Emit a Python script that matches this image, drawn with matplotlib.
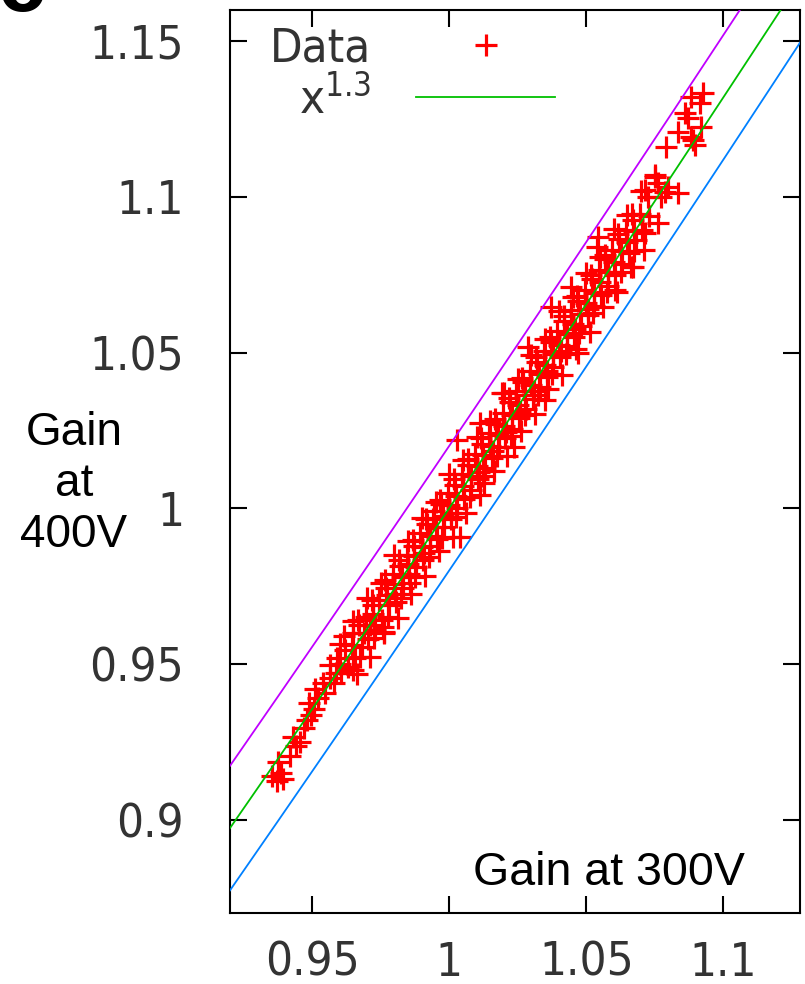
import numpy as np
import matplotlib
matplotlib.use("Agg")
import matplotlib.pyplot as plt

plt.rcParams['mathtext.default'] = 'regular'

gain300 = [
    0.9355, 0.9370, 0.9385, 0.9375, 0.9395, 0.9420, 0.9440, 0.9430, 0.9455, 0.9470,
    0.9480, 0.9495, 0.9505, 0.9490, 0.9520, 0.9545, 0.9510, 0.9540, 0.9565, 0.9585,
    0.9650, 0.9600,
    0.9565, 0.9580, 0.9600, 0.9605, 0.9592, 0.9620, 0.9632, 0.9615, 0.9648, 0.9655,
    0.9645, 0.9670, 0.9680, 0.9690, 0.9695, 0.9705, 0.9712, 0.9720, 0.9730, 0.9722,
    0.9745, 0.9755, 0.9762, 0.9760, 0.9770, 0.9780, 0.9772, 0.9795, 0.9805, 0.9800,
    0.9802, 0.9820, 0.9830, 0.9828, 0.9845, 0.9852, 0.9858, 0.9848, 0.9870, 0.9880,
    0.9872, 0.9895, 0.9905, 0.9900, 0.9908, 0.9920, 0.9930, 0.9928, 0.9945, 0.9955,
    0.9950, 0.9942, 0.9970, 0.9980, 0.9978, 0.9995, 1.0005, 1.0000, 1.0008, 1.0029,
    1.0020, 1.0030, 1.0025, 1.0040, 1.0045, 1.0055, 1.0052, 1.0070, 1.0080, 1.0078,
    1.0095, 1.0105, 1.0100, 1.0108, 1.0114, 1.0128, 1.0120, 1.0130, 1.0125, 1.0145,
    1.0155, 1.0150, 1.0158, 1.0170, 1.0180, 1.0178, 1.0194, 1.0195, 1.0205, 1.0200,
    1.0208, 1.0220, 1.0230, 1.0228, 1.0238, 1.0245, 1.0255, 1.0250, 1.0258, 1.0270,
    1.0280, 1.0278, 1.0286, 1.0295, 1.0305, 1.0300, 1.0308, 1.0320, 1.0330, 1.0328,
    1.0348, 1.0345, 1.0355, 1.0350, 1.0358, 1.0370, 1.0370, 1.0380, 1.0378, 1.0395,
    1.0405, 1.0400, 1.0408, 1.0420, 1.0430, 1.0428, 1.0443, 1.0445, 1.0455, 1.0450,
    1.0458, 1.0469, 1.0470, 1.0480, 1.0478, 1.0495, 1.0505, 1.0500, 1.0508, 1.0520,
    1.0530, 1.0528, 1.0538, 1.0545, 1.0555, 1.0550, 1.0542, 1.0570, 1.0580, 1.0578,
    1.0604, 1.0595, 1.0605, 1.0600, 1.0620, 1.0630, 1.0628, 1.0645, 1.0655, 1.0650,
    1.0670, 1.0670, 1.0680, 1.0676, 1.0695, 1.0705, 1.0714, 1.0714, 1.0725, 1.0730,
    1.0751, 1.0762, 1.0762, 1.0773, 1.0788, 1.0799, 1.0835,
    1.0883, 1.0927, 1.0916, 1.0861, 1.0872, 1.0919, 1.0835, 1.0883, 1.0897, 1.0791,
    1.0890,
    # upper edge of the band
    0.9650, 0.9700, 0.9750, 0.9800, 0.9850, 0.9900, 0.9950, 1.0000, 1.0050, 1.0100,
    1.0150, 1.0200, 1.0250, 1.0300, 1.0350, 1.0400, 1.0450, 1.0500, 1.0550, 1.0600,
    1.0650, 1.0700, 1.0750,
    # lower edge of the band
    0.9662, 0.9712, 0.9762, 0.9812, 0.9862, 0.9912, 0.9962, 1.0012, 1.0062, 1.0112,
    1.0162, 1.0212, 1.0262, 1.0312, 1.0362, 1.0412, 1.0462, 1.0512, 1.0562, 1.0612,
    1.0662, 1.0712,
    # fill, above the curve
    0.9667, 0.9717, 0.9767, 0.9817, 0.9867, 0.9917, 0.9967, 1.0017, 1.0067, 1.0117,
    1.0167, 1.0217, 1.0267, 1.0317, 1.0367, 1.0417, 1.0467, 1.0517, 1.0567, 1.0617,
    1.0667,
    # fill, below the curve
    0.9675, 0.9725, 0.9775, 0.9825, 0.9875, 0.9925, 0.9975, 1.0025, 1.0075, 1.0125,
    1.0175, 1.0225, 1.0275, 1.0325, 1.0375, 1.0425, 1.0475, 1.0525, 1.0575, 1.0625,
    1.0675,
]
gain400 = [
    0.9140, 0.9125, 0.9150, 0.9185, 0.9130, 0.9205, 0.9235, 0.9265, 0.9250, 0.9295,
    0.9320, 0.9335, 0.9355, 0.9375, 0.9390, 0.9405, 0.9420, 0.9440, 0.9455, 0.9470,
    0.9480, 0.9500,
    0.9498, 0.9440, 0.9565, 0.9470, 0.9520, 0.9545, 0.9490, 0.9588, 0.9600, 0.9520,
    0.9560, 0.9625, 0.9555, 0.9600, 0.9650, 0.9580, 0.9625, 0.9688, 0.9610, 0.9660,
    0.9705, 0.9640, 0.9598, 0.9617, 0.9745, 0.9690, 0.9720, 0.9790, 0.9700, 0.9755,
    0.9725, 0.9815, 0.9745, 0.9780, 0.9850, 0.9790, 0.9760, 0.9822, 0.9880, 0.9810,
    0.9845, 0.9920, 0.9835, 0.9875, 0.9855, 0.9950, 0.9880, 0.9910, 0.9990, 0.9900,
    0.9940, 0.9965, 1.0015, 0.9940, 0.9975, 1.0050, 0.9965, 1.0010, 0.9985, 1.0219,
    1.0075, 1.0000, 1.0040, 0.9907, 1.0110, 1.0030, 1.0070, 1.0140, 1.0060, 1.0105,
    1.0175, 1.0095, 1.0135, 1.0115, 1.0273, 1.0080, 1.0205, 1.0130, 1.0170, 1.0240,
    1.0160, 1.0200, 1.0185, 1.0270, 1.0195, 1.0235, 1.0370, 1.0305, 1.0225, 1.0265,
    1.0245, 1.0340, 1.0255, 1.0300, 1.0196, 1.0375, 1.0290, 1.0330, 1.0310, 1.0405,
    1.0320, 1.0365, 1.0518, 1.0440, 1.0350, 1.0395, 1.0375, 1.0470, 1.0390, 1.0430,
    1.0347, 1.0505, 1.0420, 1.0460, 1.0440, 1.0646, 1.0535, 1.0455, 1.0495, 1.0570,
    1.0485, 1.0525, 1.0505, 1.0600, 1.0520, 1.0560, 1.0711, 1.0635, 1.0550, 1.0590,
    1.0575, 1.0498, 1.0665, 1.0585, 1.0625, 1.0700, 1.0620, 1.0660, 1.0640, 1.0735,
    1.0650, 1.0690, 1.0839, 1.0765, 1.0685, 1.0725, 1.0871, 1.0800, 1.0715, 1.0760,
    1.0701, 1.0830, 1.0750, 1.0790, 1.0865, 1.0785, 1.0825, 1.0895, 1.0820, 1.0855,
    1.0774, 1.0925, 1.0860, 1.0890, 1.0945, 1.0895, 1.0884, 1.1022, 1.0999, 1.0940,
    1.1064, 1.1045, 1.0916, 1.0999, 1.1015, 1.1031, 1.1012,
    1.1321, 1.1334, 1.1302, 1.1270, 1.1254, 1.1225, 1.1209, 1.1193, 1.1167, 1.1161,
    1.1183,
    # upper edge of the band
    0.9637, 0.9712, 0.9761, 0.9851, 0.9895, 0.9970, 1.0020, 1.0110, 1.0155, 1.0230,
    1.0280, 1.0371, 1.0416, 1.0492, 1.0542, 1.0633, 1.0679, 1.0755, 1.0806, 1.0897,
    1.0943, 1.1019, 1.1071,
    # lower edge of the band
    0.9468, 0.9523, 0.9602, 0.9647, 0.9726, 0.9781, 0.9861, 0.9906, 0.9986, 1.0041,
    1.0121, 1.0167, 1.0247, 1.0303, 1.0383, 1.0429, 1.0510, 1.0566, 1.0647, 1.0693,
    1.0774, 1.0830,
    # fill, above the curve
    0.9640, 0.9706, 0.9768, 0.9835, 0.9898, 0.9965, 1.0027, 1.0094, 1.0157, 1.0225,
    1.0288, 1.0355, 1.0419, 1.0487, 1.0550, 1.0618, 1.0682, 1.0750, 1.0814, 1.0882,
    1.0946,
    # fill, below the curve
    0.9522, 0.9583, 0.9650, 0.9712, 0.9778, 0.9842, 0.9905, 0.9971, 1.0036, 1.0102,
    1.0168, 1.0232, 1.0298, 1.0364, 1.0430, 1.0495, 1.0562, 1.0627, 1.0694, 1.0759,
    1.0826,
]

# model curve x^1.3 and the +/- band around it
exponent = 1.3
band = 0.02
xlim = (0.92, 1.128)
ylim = (0.87, 1.16)
xticks = [0.95, 1, 1.05, 1.1]
yticks = [0.9, 0.95, 1, 1.05, 1.1, 1.15]

fig = plt.figure(figsize=(8.05, 9.84), dpi=100)
ax = fig.add_axes([230/805, 1-913/984, 570/805, 903/984])

xs = np.linspace(xlim[0], xlim[1], 400)
ax.plot(gain300, gain400, "+", color="#ff0000", ms=16, mew=2.3, ls="none", label="Data", zorder=2)
ax.plot(xs, xs**exponent + band, color="#c000ff", lw=1.3, zorder=3)
ax.plot(xs, xs**exponent, color="#00c000", lw=1.3, label="x$^{1.3}$", zorder=3)
ax.plot(xs, xs**exponent - band, color="#0080ff", lw=1.3, zorder=3)

ax.set_xlim(*xlim)
ax.set_ylim(*ylim)
ax.set_xticks(xticks)
ax.set_yticks(yticks)
ax.set_xticklabels(["0.95", "1", "1.05", "1.1"])
ax.set_yticklabels(["0.9", "0.95", "1", "1.05", "1.1", "1.15"])
ax.tick_params(direction="in", length=12, width=1.5, top=True, right=True,
               labelsize=34, labelcolor="#333333")
ax.tick_params(axis="y", pad=33)
ax.tick_params(axis="x", pad=20)
for lab in ax.get_xticklabels() + ax.get_yticklabels():
    lab.set_family("DejaVu Sans")
    lab.set_fontstretch("condensed")
    lab.set_fontweight("light")
for sp in ax.spines.values():
    sp.set_linewidth(1.5)

leg = ax.legend(loc="upper left", bbox_to_anchor=(0.07, 0.982), frameon=False,
                markerfirst=False, fontsize=34, handlelength=2.95, handletextpad=0.95,
                labelspacing=0.12, borderaxespad=0, borderpad=0)
for t in leg.get_texts():
    t.set_color("#333333")
    t.set_fontstretch("condensed")
    t.set_fontweight("light")

ax.text(0.9035, 0.031, "Gain at 300V", transform=ax.transAxes, ha="right", va="baseline",
        family="Liberation Sans", fontsize=33.5)
fig.text(74/805, 1-484/984, "Gain\nat\n400V", ha="center", va="center", multialignment="center",
         family="Liberation Sans", fontsize=33, linespacing=1.2)
fig.text(-2/805, 1-11/984, "c", ha="left", va="baseline", family="Liberation Sans",
         fontweight="bold", fontsize=62)

fig.savefig("out.png", dpi=100)
